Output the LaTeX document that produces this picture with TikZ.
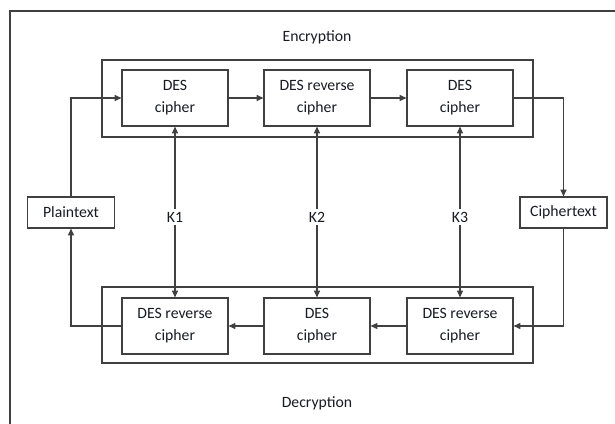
\documentclass[tikz,border=0pt]{standalone}
\usepackage{fontspec}
\setmainfont{Carlito}
\usetikzlibrary{arrows.meta}
\definecolor{ink}{RGB}{24,26,36}
\definecolor{rule}{RGB}{64,64,64}
\tikzset{
  blk/.style={draw=rule, line width=0.9pt, minimum width=106*0.75pt, minimum height=56*0.75pt,
    inner sep=0pt, align=center, font=\fontsize{11.8}{16.5}\selectfont, text=ink},
  io/.style={draw=rule, line width=0.9pt, minimum width=87*0.75pt, minimum height=31*0.75pt,
    inner sep=0pt, font=\fontsize{11.8}{13}\selectfont, text=ink},
  grp/.style={draw=rule, line width=0.9pt},
  flow/.style={draw=rule, line width=0.9pt, -{Triangle[length=5pt,width=4.5pt]}},
  keyline/.style={draw=rule, line width=0.9pt, {Triangle[length=5pt,width=4.5pt]}-{Triangle[length=5pt,width=4.5pt]}},
  lbl/.style={font=\fontsize{11.8}{13}\selectfont, text=ink},
  keylbl/.style={font=\fontsize{11.8}{13}\selectfont, text=ink, fill=white, inner sep=2pt}
}
\begin{document}
\begin{tikzpicture}[x=0.75pt, y=-0.75pt]
\useasboundingbox (0,0) rectangle (615,424);
% page frame (cut at right and bottom)
\draw[rule, line width=0.9pt] (10,424) -- (10,11) -- (615,11);
% group frames
\draw[grp] (102,60) rectangle (533,137);
\draw[grp] (102,287) rectangle (533,363);
\node[lbl] (enc) at (317,37) {Encryption};
\node[lbl] (dec) at (317,403) {Decryption};
% encryption stages
\node[blk] (e1) at (175,98) {DES\\cipher};
\node[blk] (e2) at (317,98) {DES reverse\\cipher};
\node[blk] (e3) at (460,98) {DES\\cipher};
% decryption stages
\node[blk] (d1) at (175,326) {DES reverse\\cipher};
\node[blk] (d2) at (317,326) {DES\\cipher};
\node[blk] (d3) at (460,326) {DES reverse\\cipher};
% plaintext / ciphertext
\node[io] (pt) at (71,212.5) {Plaintext};
\node[io] (ct) at (563.5,212.5) {Ciphertext};
% encryption chain
\draw[flow] (pt.north) |- (e1.west);
\draw[flow] (e1) -- (e2);
\draw[flow] (e2) -- (e3);
\draw[flow] (e3.east) -| (ct.north);
% decryption chain
\draw[flow] (ct.south) |- (d3.east);
\draw[flow] (d3) -- (d2);
\draw[flow] (d2) -- (d1);
\draw[flow] (d1.west) -| (pt.south);
% keys
\draw[keyline] (e1.south) -- (d1.north);
\draw[keyline] (e2.south) -- (d2.north);
\draw[keyline] (e3.south) -- (d3.north);
\node[keylbl] (k1) at (175,217) {K1};
\node[keylbl] (k2) at (317,217) {K2};
\node[keylbl] (k3) at (460,217) {K3};
\end{tikzpicture}
\end{document}
